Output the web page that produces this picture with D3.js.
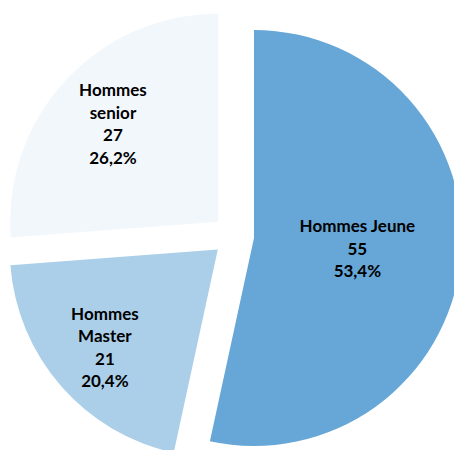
<!DOCTYPE html>
<html>
<head>
<meta charset="utf-8">
<script src="https://cdn.jsdelivr.net/npm/d3@7"></script>
<style>
  body { margin: 0; background: #fff; }
  svg { display: block; }
  .lbl { font-family: Lato, "Open Sans", sans-serif; font-weight: bold; fill: #000; }
</style>
</head>
<body>
<div id="chart"></div>
<script>
// data
const categories = ["Hommes Jeune", "Hommes Master", "Hommes senior"];
const counts = [55, 21, 27];
const percents = ["53,4%", "20,4%", "26,2%"];
// label text lines (as in the picture)
const labelLines = [["Hommes Jeune"], ["Hommes", "Master"], ["Hommes", "senior"]];

const colors = ["#66a7d7", "#abcfe9", "#f2f7fc"];

const width = 454, height = 450;
const cx = 233.4, cy = 235.8, radius = 208, explode = 20.7;
// label distance from slice apex, as fraction of radius
const labelPos = [0.5, 0.72, 0.69];
const lineH = 22.6, fontSize = 17;

const svg = d3.select("#chart").append("svg")
    .attr("width", width)
    .attr("height", height);

const g = svg.append("g")
    .attr("transform", `translate(${cx},${cy})`);

const rows = categories.map((c, i) => ({name: c, value: counts[i], pct: percents[i], lines: labelLines[i], idx: i}));

const pie = d3.pie().value(d => d.value).sort(null);
const arc = d3.arc().innerRadius(0).outerRadius(radius);

const slices = g.selectAll(".slice")
    .data(pie(rows))
    .join("g")
    .attr("class", "slice")
    .attr("transform", d => {
        const a = (d.startAngle + d.endAngle) / 2;
        return `translate(${explode * Math.sin(a)},${-explode * Math.cos(a)})`;
    });

slices.append("path")
    .attr("d", arc)
    .attr("fill", d => colors[d.data.idx]);

slices.each(function(d){
    const a = (d.startAngle + d.endAngle) / 2;
    const r = radius * labelPos[d.data.idx];
    const x = r * Math.sin(a), y = -r * Math.cos(a);
    const lines = d.data.lines.concat([String(d.data.value), d.data.pct]);
    const first = y - (lines.length - 1) * lineH / 2 + 5.8;
    const t = d3.select(this).append("text")
        .attr("class", "lbl")
        .attr("text-anchor", "middle")
        .style("font-size", fontSize + "px");
    lines.forEach((s, k) => {
        t.append("tspan")
            .attr("x", x)
            .attr("y", first + k * lineH)
            .text(s);
    });
});
</script>
</body>
</html>
